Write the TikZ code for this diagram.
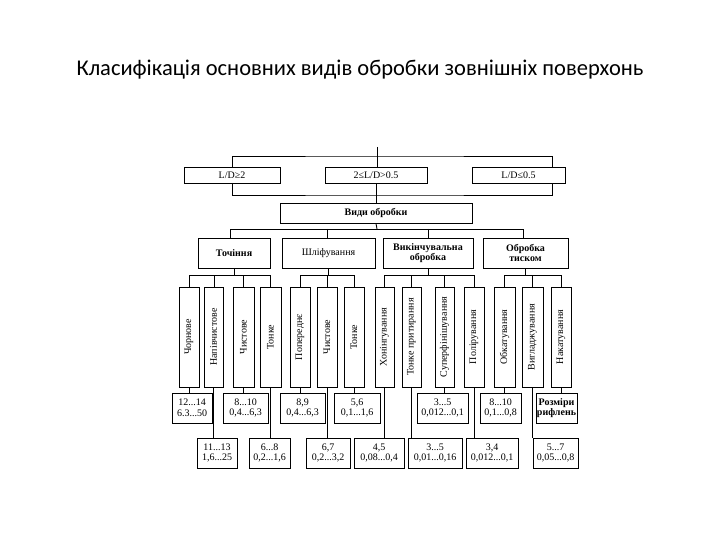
\documentclass[tikz,border=0pt]{standalone}
\usepackage{fontspec}
\setmainfont{Liberation Serif}
\newfontfamily\titlefont{Carlito}
\newcommand\bx[6][]{\node[box,#1,minimum width={(#4-#2)*1pt},minimum height={(#5-#3)*1pt}] (#6) at ({(#2+#4)/2},{(#3+#5)/2})}
\begin{document}
\begin{tikzpicture}[x=1pt,y=-1pt,
  box/.style={draw,line width=0.9pt,inner sep=0pt,align=center,font=\fontsize{10}{10.5}\selectfont},
  ln/.style={line width=0.9pt}]
\useasboundingbox (0,0) rectangle (720,540);
\node[font=\titlefont\fontsize{22.5}{26}\selectfont] (title) at (360,70) {Класифікація основних видів обробки зовнішніх поверхонь};
% top
\coordinate (top) at (377,147);
\bx{184}{167}{280}{183}{a1} {L/D≥2};
\bx{325}{167}{427}{183}{a2} {2≤L/D>0.5};
\bx{472}{167}{565}{183}{a3} {L/D≤0.5};
\bx[font=\fontsize{10}{10.5}\selectfont\bfseries]{280}{203}{472}{223}{vo} {Види обробки};
\draw[ln] (232,183) |- (377,195) -| (552,183);
\draw[ln] (232,167) |- (377,156) -| (552,167);
\draw[ln] (top) -- (377,167) (a2.south) -- (vo.north);
% level 2
\bx[font=\fontsize{10}{10.5}\selectfont\bfseries]{198}{238}{270}{268}{t} {Точіння};
\bx{282}{238}{375}{268}{s} {Шліфування};
\bx[font=\fontsize{10}{10.5}\selectfont\bfseries]{383}{238}{473}{268}{v} {Викінчувальна\\обробка};
\bx[font=\fontsize{10}{10.5}\selectfont\bfseries]{483}{238}{568}{268}{o} {Обробка\\тиском};
\draw[ln] (vo.south) -- (377,229);
\draw[ln] (230,238) -- (230,229) -- (523,229) -- (523,238);
\draw[ln] (327,229) -- (327,238) (428,229) -- (428,238);
% level 3
\foreach \n/\xa/\xb/\txt in {c1/179/199/Чорнове, c2/204/223/Напівчистове, c3/233/254/Чистове, c4/260/281/Тонке,
  c5/290/310/Попереднє, c6/317/337/Чистове, c7/344/364/Тонке,
  c8/375/394/Хонінгування, c9/402/421/Тонке притирання, c10/435/454/Суперфінішування, c11/464/484/Полірування,
  c12/494/515/Обкатування, c13/522/543/Вигладжування, c14/551/571/Накатування}{
  \node[box,minimum height={(\xb-\xa)*1pt},minimum width=100pt,rotate=90] (\n) at ({(\xa+\xb)/2},337) {\txt};
}
\draw[ln] (t.south) -- (t.south |- 0,275);
\draw[ln] (189,287) |- (270,275) -- (270,287);
\draw[ln] (214,275) -- (214,287) (243,275) -- (243,287);
\draw[ln] (s.south) -- (s.south |- 0,275);
\draw[ln] (300,287) |- (354,275) -- (354,287) (327,275) -- (327,287);
\draw[ln] (v.south) -- (v.south |- 0,275);
\draw[ln] (384,287) |- (474,275) -- (474,287) (411,275) -- (411,287) (444,275) -- (444,287);
\draw[ln] (o.south) -- (o.south |- 0,275);
\draw[ln] (504,287) |- (561,275) -- (561,287) (532,275) -- (532,287);
% data row 1
\bx{172}{393}{212}{423}{d1} {12...14\\6.3...50};
\bx{223}{393}{268}{423}{d3} {8...10\\0,4...6,3};
\bx{280}{393}{325}{423}{d5} {8,9\\0,4...6,3};
\bx{334}{393}{380}{423}{d7} {5,6\\0,1...1,6};
\bx{417}{393}{468}{423}{d10} {3...5\\0,012...0,1};
\bx{480}{393}{521}{423}{d12} {8...10\\0,1...0,8};
\bx{536}{393}{577}{423}{d14} {\textbf{Розміри}\\\textbf{рифлень}};
% data row 2
\bx{197}{438}{237}{468}{d2} {11...13\\1,6...25};
\bx{249}{438}{290}{468}{d4} {6...8\\0,2...1,6};
\bx{306}{438}{350}{468}{d6} {6,7\\0,2...3,2};
\bx{354}{438}{404}{468}{d8} {4,5\\0,08...0,4};
\bx{408}{438}{462}{468}{d9} {3...5\\0,01...0,16};
\bx{466}{438}{518}{468}{d11} {3,4\\0,012...0,1};
\bx{533}{438}{578}{468}{d13} {5...7\\0,05...0,8};
\foreach \c/\d in {c1/d1,c3/d3,c5/d5,c7/d7,c10/d10,c12/d12,c14/d14,c2/d2,c4/d4,c6/d6,c8/d8,c9/d9,c11/d11,c13/d13}
  \draw[ln] (\c.west) -- (\c.west |- \d.north);
\end{tikzpicture}
\end{document}
